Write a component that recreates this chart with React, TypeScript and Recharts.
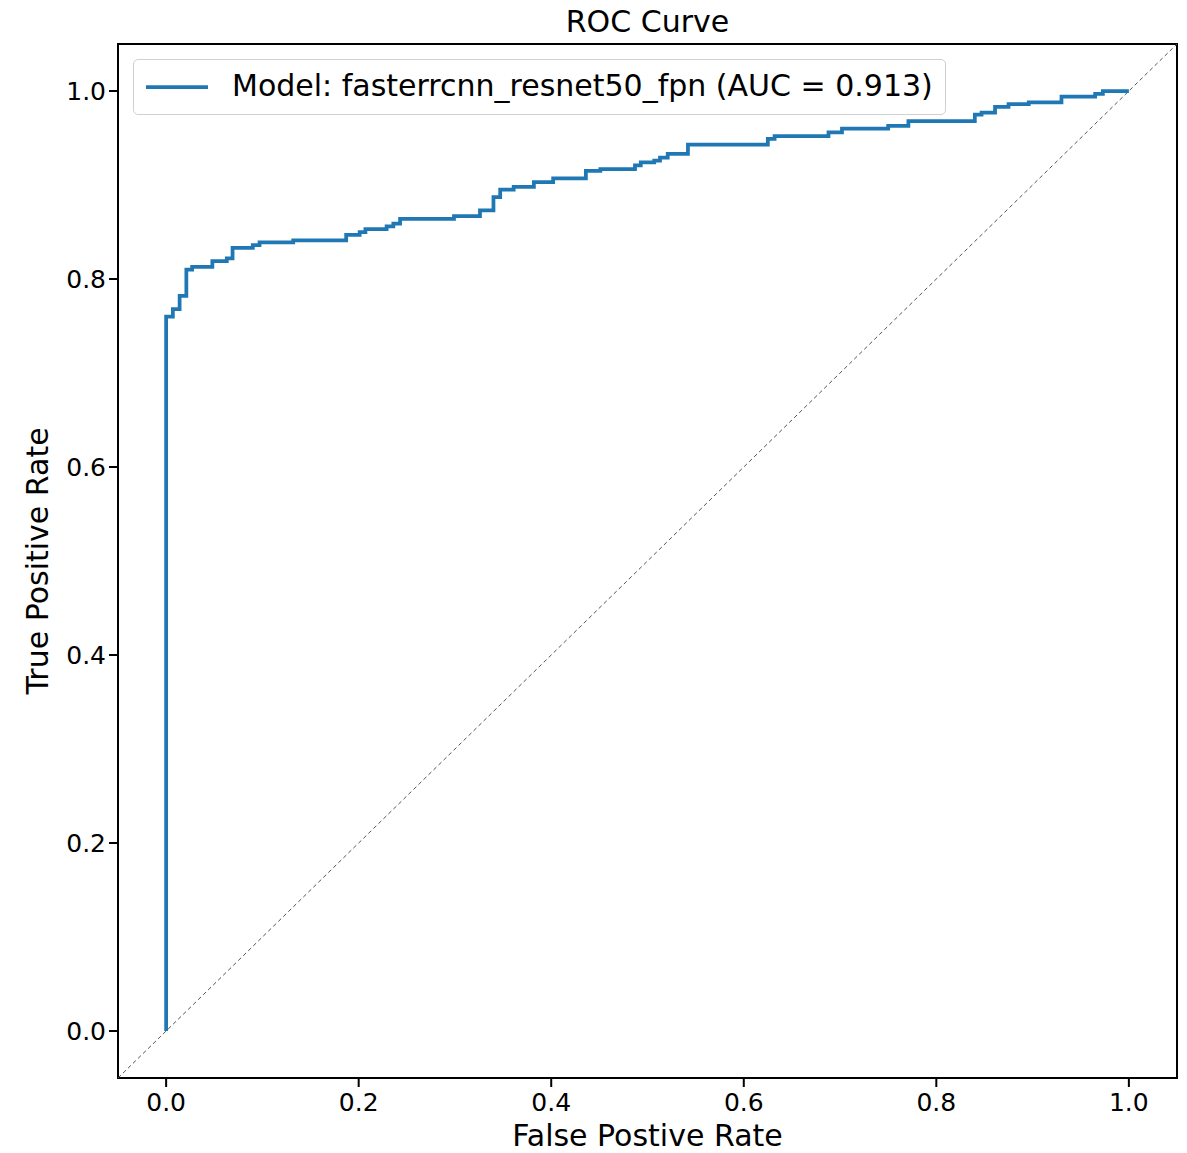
import React from 'react';
import { LineChart, Line, XAxis, YAxis, ReferenceLine, ReferenceArea, Label } from 'recharts';

// ROC corner points (step curve)
const fpr = [
  0, 0, 0.007, 0.007, 0.014, 0.014, 0.021, 0.021, 0.027, 0.027, 0.048, 0.048, 0.063, 0.063, 0.069, 0.069,
  0.09, 0.09, 0.097, 0.097, 0.132, 0.132, 0.187, 0.187, 0.201, 0.201, 0.207, 0.207, 0.229, 0.229, 0.236, 0.236,
  0.243, 0.243, 0.299, 0.299, 0.326, 0.326, 0.34, 0.34, 0.347, 0.347, 0.361, 0.361, 0.382, 0.382, 0.402, 0.402,
  0.436, 0.436, 0.451, 0.451, 0.487, 0.487, 0.493, 0.493, 0.507, 0.507, 0.513, 0.513, 0.521, 0.521, 0.542, 0.542,
  0.625, 0.625, 0.632, 0.632, 0.688, 0.688, 0.702, 0.702, 0.75, 0.75, 0.771, 0.771, 0.84, 0.84, 0.847, 0.847,
  0.861, 0.861, 0.875, 0.875, 0.896, 0.896, 0.93, 0.93, 0.965, 0.965, 0.973, 0.973, 1.0,
];
const tpr = [
  0, 0.76, 0.76, 0.768, 0.768, 0.782, 0.782, 0.81, 0.81, 0.813, 0.813, 0.819, 0.819, 0.822, 0.822, 0.833,
  0.833, 0.836, 0.836, 0.839, 0.839, 0.841, 0.841, 0.847, 0.847, 0.85, 0.85, 0.853, 0.853, 0.856, 0.856, 0.859,
  0.859, 0.864, 0.864, 0.867, 0.867, 0.873, 0.873, 0.887, 0.887, 0.895, 0.895, 0.898, 0.898, 0.903, 0.903, 0.907,
  0.907, 0.915, 0.915, 0.917, 0.917, 0.921, 0.921, 0.924, 0.924, 0.926, 0.926, 0.929, 0.929, 0.933, 0.933, 0.943,
  0.943, 0.949, 0.949, 0.952, 0.952, 0.956, 0.956, 0.96, 0.96, 0.963, 0.963, 0.968, 0.968, 0.975, 0.975, 0.977,
  0.977, 0.983, 0.983, 0.986, 0.986, 0.988, 0.988, 0.994, 0.994, 0.997, 0.997, 1.0, 1.0,
];
const ticks = [0, 0.2, 0.4, 0.6, 0.8, 1.0];
const modelName = 'fasterrcnn_resnet50_fpn';
const auc = 0.913;

const data = fpr.map((x, i) => ({ fpr: x, tpr: tpr[i] }));

const FONT = '"DejaVu Sans", sans-serif';
const BLUE = '#1f77b4';

const LegendBox = () => (
  <div
    style={{
      position: 'absolute',
      left: 133,
      top: 59,
      display: 'flex',
      alignItems: 'center',
      border: '1px solid #d0d0d0',
      borderRadius: 5,
      background: 'rgba(255,255,255,0.8)',
      height: 54,
      padding: '0 12px',
      fontFamily: FONT,
      fontSize: 30,
      color: '#000',
    }}
  >
    <svg width={62} height={6} style={{ marginRight: 24 }}>
      <line x1={0} y1={3} x2={62} y2={3} stroke={BLUE} strokeWidth={3.75} />
    </svg>
    <span style={{ position: 'relative', top: -2 }}>{`Model: ${modelName} (AUC = ${auc.toFixed(3)})`}</span>
  </div>
);

const App = () => {
  return (
    <div style={{ position: 'absolute', left: 0, top: 0, width: 1187, height: 1153, background: '#fff' }}>
      <div
        style={{
          position: 'absolute',
          left: 118,
          width: 1059,
          top: 3,
          textAlign: 'center',
          fontFamily: FONT,
          fontSize: 30,
          lineHeight: '38px',
        }}
      >
        ROC Curve
      </div>
      <LineChart
        width={1187}
        height={1153}
        data={data}
        margin={{ top: 44, right: 10, bottom: 0, left: 0 }}
        style={{ fontFamily: FONT }}
      >
        <XAxis
          dataKey="fpr"
          type="number"
          domain={[-0.05, 1.05]}
          ticks={ticks}
          tickFormatter={(v: number) => v.toFixed(1)}
          height={75}
          axisLine={false}
          tickSize={9}
          tickMargin={6}
          tickLine={{ stroke: '#000', strokeWidth: 2 }}
          tick={{ fill: '#000', fontSize: 25 }}
        >
          <Label
            content={({ viewBox }: any) => (
              <text
                x={viewBox.x + viewBox.width / 2}
                y={1146}
                textAnchor="middle"
                fontSize={30}
                fill="#000"
                fontFamily={FONT}
              >
                False Postive Rate
              </text>
            )}
          />
        </XAxis>
        <YAxis
          type="number"
          domain={[-0.05, 1.05]}
          ticks={ticks}
          tickFormatter={(v: number) => v.toFixed(1)}
          width={118}
          axisLine={false}
          tickSize={9}
          tickMargin={3}
          tickLine={{ stroke: '#000', strokeWidth: 2 }}
          tick={{ fill: '#000', fontSize: 25 }}
        >
          <Label
            content={({ viewBox }: any) => {
              const cy = viewBox.y + viewBox.height / 2;
              return (
                <text
                  x={48}
                  y={cy}
                  transform={`rotate(-90, 48, ${cy})`}
                  textAnchor="middle"
                  fontSize={30}
                  fill="#000"
                  fontFamily={FONT}
                >
                  True Positive Rate
                </text>
              );
            }}
          />
        </YAxis>
        <ReferenceLine
          segment={[
            { x: -0.05, y: -0.05 },
            { x: 1.05, y: 1.05 },
          ]}
          stroke="#555"
          strokeWidth={1}
          strokeDasharray="4 3"
        />
        <Line
          dataKey="tpr"
          type="linear"
          stroke={BLUE}
          strokeWidth={3.75}
          dot={false}
          activeDot={false}
          isAnimationActive={false}
        />
        <ReferenceArea x1={-0.05} x2={1.05} y1={-0.05} y2={1.05} fill="none" stroke="#000" strokeWidth={2} />
      </LineChart>
      <LegendBox />
    </div>
  );
};

export default App;
